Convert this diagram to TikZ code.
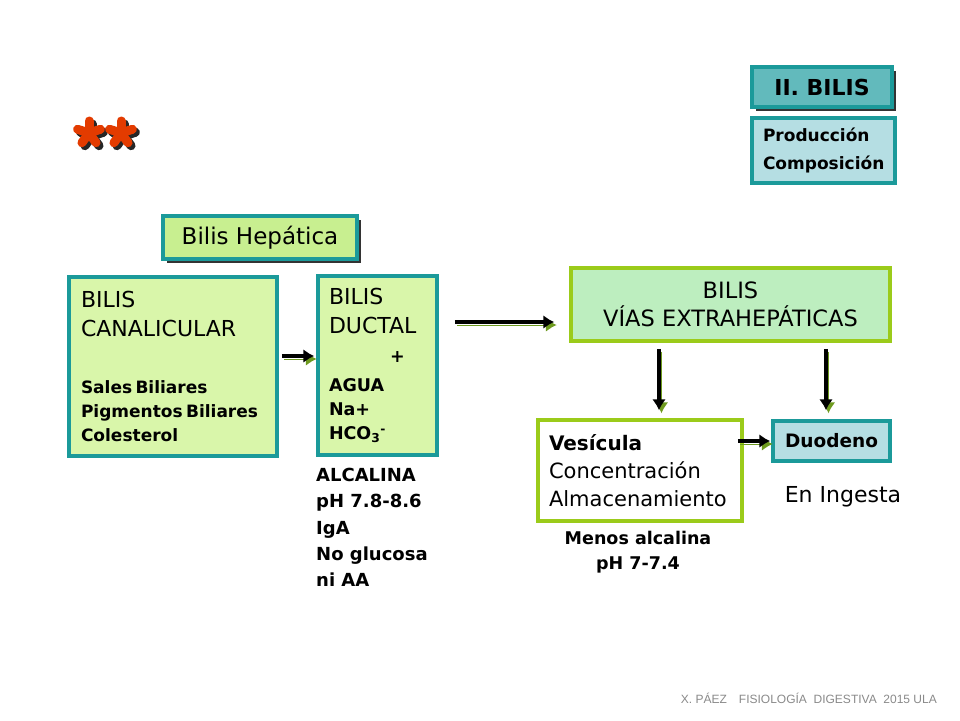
\documentclass[tikz,border=0pt]{standalone}
\usepackage{fontspec}
\setmainfont{DejaVu Sans}
\newfontfamily\footfont{Liberation Sans}
\usetikzlibrary{arrows.meta,shadows,calc}
\setlength\parindent{0pt}
\setlength\parskip{0pt}
\hyphenpenalty=10000
\definecolor{bordeteal}{HTML}{1B9A9A}
\definecolor{relleteal}{HTML}{62BABC}
\definecolor{rellecian}{HTML}{B5DEE3}
\definecolor{rellehep}{HTML}{C8EF90}
\definecolor{rellebilis}{HTML}{D9F6AA}
\definecolor{rellevias}{HTML}{BDEEBF}
\definecolor{bordeverde}{HTML}{9BCB1A}
\definecolor{sombraverde}{HTML}{6E9A1E}
\definecolor{asterisco}{HTML}{E33B00}
\definecolor{pie}{HTML}{8A8A8A}
\newcommand\fs[2]{\fontsize{#1}{#2}\selectfont}
\tikzset{
  caja/.style={draw=bordeteal,line width=3.5pt,inner sep=0pt},
  cajaverde/.style={draw=bordeverde,line width=3.5pt,inner sep=0pt},
  sombra/.style={drop shadow={shadow xshift=4pt,shadow yshift=-4pt,fill=black!80,opacity=1}},
  flecha/.style={line width=4.5pt,-{Latex[length=11pt,width=14pt]},
    preaction={draw=sombraverde,transform canvas={xshift=2.5pt,yshift=-3pt}}},
}
\begin{document}
\begin{tikzpicture}[x=1pt,y=-1pt]
\useasboundingbox[fill=white] (0,0) rectangle (960,720);
%% titulo
\node (tema) at (822,87) [caja,sombra,fill=relleteal,minimum width=140pt,minimum height=40pt,font=\bfseries\fs{22}{26}] {II. BILIS};
\node (temas) at (823.5,150.5) [caja,fill=rellecian,minimum width=143pt,minimum height=65pt,text width=121pt,align=left,font=\bfseries\fs{17}{28}] {Producción\\Composición};
%% asteriscos
\foreach \cx in {89,121} {
  \foreach \a in {270,342,54,126,198}
    \draw[black!85,line width=9pt,line cap=round] (\cx+3,136) -- ++(\a:12);
  \foreach \a in {270,342,54,126,198}
    \draw[asterisco,line width=9pt,line cap=round] (\cx,133) -- ++(\a:12);
}
%% cajas
\node (hep) at (260,237.5) [caja,sombra,fill=rellehep,minimum width=194pt,minimum height=43pt,font=\fs{23}{27}] {Bilis Hepática};
\node (canal) at (173,366.5) [caja,fill=rellebilis,minimum width=208pt,minimum height=179pt,text width=184pt,align=left] {{\fs{22}{29}BILIS\\CANALICULAR\par}\vspace{33pt}{\bfseries\fs{17}{24}Sales Biliares\\Pigmentos Biliares\\Colesterol\par}};
\node (duct) at (377.5,365.5) [caja,fill=rellebilis,minimum width=119pt,minimum height=179pt,text width=97pt,align=left] {{\fs{22}{29}BILIS\\DUCTAL\par}{\bfseries\fs{17.5}{29}\hspace*{61pt}+\par}\vspace{5pt}{\bfseries\fs{17.5}{24}AGUA\\Na+\\HCO\textsubscript{3}\textsuperscript{-}\par}};
\node (vias) at (730.5,304.5) [cajaverde,fill=rellevias,minimum width=319pt,minimum height=73pt,align=center,font=\fs{22.5}{28}] {BILIS\\VÍAS EXTRAHEPÁTICAS};
\node (ves) at (640,470.5) [cajaverde,fill=white,minimum width=204pt,minimum height=101pt,text width=182pt,align=left] {{\bfseries\fs{20}{28}Vesícula\par}{\fs{21}{28}Concentración\\Almacenamiento\par}};
\node (duo) at (831.5,441) [caja,fill=rellecian,minimum width=117pt,minimum height=40pt,font=\bfseries\fs{18.5}{22}] {Duodeno};
%% textos
\node (alca) at (316,468) [anchor=north west,inner sep=0pt,align=left,font=\bfseries\fs{18}{26.3}] {ALCALINA\\pH 7.8-8.6\\IgA\\No glucosa\\ni AA};
\node (menos) at (638,531) [anchor=north,inner sep=0pt,align=center,font=\bfseries\fs{17.5}{25}] {Menos alcalina\\pH 7-7.4};
\node (ingesta) at (843,502) [anchor=base,font=\fs{22}{26}] {En Ingesta};
\node (pie) at (937,703) [anchor=base east,inner sep=0pt,text=pie,font=\footfont\fs{12}{14}] {X. PÁEZ\quad FISIOLOGÍA\ \ DIGESTIVA\ \ 2015 ULA};
%% flechas
\coordinate (c1) at ($(duct.west)+(0,-9.5)$);
\coordinate (v1) at ($(vias.west)+(0,17.5)$);
\coordinate (dl) at ($(ves.north)+(19,0)$);
\coordinate (dr) at ($(duo.north)+(-5.5,0)$);
\draw[flecha,shorten <=3pt,shorten >=2pt] (canal.east |- c1) -- (c1);
\draw[flecha,shorten <=16pt,shorten >=15pt] (duct.east |- v1) -- (v1);
\draw[flecha,shorten <=6pt,shorten >=8pt] (dl |- vias.south) -- (dl);
\draw[flecha,shorten <=6pt,shorten >=9pt] (dr |- vias.south) -- (dr);
\draw[flecha,shorten <=-6pt,shorten >=1pt] (ves.east |- duo.west) -- (duo.west);
%
\end{tikzpicture}
\end{document}
